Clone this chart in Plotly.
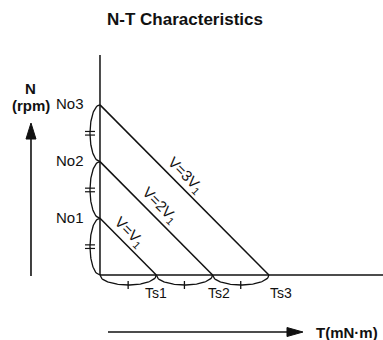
import numpy as np
import plotly.graph_objects as go

# ---- data ----
speed_labels = ["No1", "No2", "No3"]
no_load_speed = [1, 2, 3]          # relative no-load speed
torque_labels = ["Ts1", "Ts2", "Ts3"]
stall_torque = [1, 2, 3]           # relative stall torque
voltage_labels = ["V=V<sub>1</sub>", "V=2V<sub>1</sub>", "V=3V<sub>1</sub>"]

W, H = 383, 340
X_RANGE = [-1.776, 5.027]
Y_RANGE = [-1.146, 4.850]
px = (X_RANGE[1] - X_RANGE[0]) / W   # data units per pixel (x)
py = (Y_RANGE[1] - Y_RANGE[0]) / H   # data units per pixel (y)

FONT = "Liberation Sans, Arial, Helvetica, sans-serif"
INK = "#111111"
LW = 1.5

fig = go.Figure()

def add_line(xs, ys, width=LW):
    fig.add_trace(go.Scatter(x=xs, y=ys, mode="lines",
                             line=dict(color=INK, width=width),
                             hoverinfo="skip", showlegend=False))

def add_tri(xs, ys):
    fig.add_trace(go.Scatter(x=xs, y=ys, mode="lines", fill="toself",
                             fillcolor=INK, line=dict(color=INK, width=1),
                             hoverinfo="skip", showlegend=False))

# axes
add_line([0, 0], [0, 220 * py])
add_line([0, X_RANGE[1]], [0, 0])

# N-T lines
for n, t in zip(no_load_speed, stall_torque):
    add_line([0, t], [n, 0])

# arcs under torque axis with tick marks
tt = np.linspace(0, 1, 60)
bump = np.sqrt(np.clip(1 - (2 * tt - 1) ** 2, 0, 1))
ax, ay, kx, ky = [], [], [], []
prev = 0
for t in stall_torque:
    ax += list(prev + (t - prev) * tt) + [None]
    ay += list(-10 * py * bump) + [None]
    mid = (prev + t) / 2
    kx += [mid, mid, None]
    ky += [-6 * py, -14 * py, None]
    prev = t
add_line(ax, ay, 1.3)
add_line(kx, ky, 1.3)

# arcs left of speed axis with "=" marks
bx, by, ex, ey = [], [], [], []
prev = 0
for n in no_load_speed:
    by += list(prev + (n - prev) * tt) + [None]
    bx += list(-10 * px * bump) + [None]
    mid = (prev + n) / 2
    for d in (-1.8, 1.8):
        ex += [-15 * px, -5 * px, None]
        ey += [mid + d * py, mid + d * py, None]
    prev = n
add_line(bx, by, 1.3)
add_line(ex, ey, 1.2)

# vertical arrow (N)
xa = -69 * px
ytip = 152 * py
add_line([xa, xa], [-1 * py, ytip - 10 * py], 1.6)
add_tri([xa, xa - 5 * px, xa + 5 * px, xa], [ytip, ytip - 16 * py, ytip - 16 * py, ytip])

# horizontal arrow (T)
yb = -57 * py
xtip = 203 * px
add_line([8 * px, xtip - 10 * px], [yb, yb], 1.6)
add_tri([xtip, xtip - 16 * px, xtip - 16 * px, xtip], [yb, yb + 4.5 * py, yb - 4.5 * py, yb])

ann = []
# speed labels
for lab, n in zip(speed_labels, no_load_speed):
    ann.append(dict(x=0, y=n, text=lab, xanchor="right", yanchor="middle",
                    xshift=-14, yshift=1, font=dict(size=15)))
# torque labels
for lab, t, sh in zip(torque_labels, stall_torque, [0, 6, 12]):
    ann.append(dict(x=t, y=0, text=lab, xanchor="center", yanchor="middle",
                    xshift=sh, yshift=-18, font=dict(size=14)))
# voltage labels along lines
for lab, n, t, f in zip(voltage_labels, no_load_speed, stall_torque, [0.386, 0.46, 0.46]):
    ann.append(dict(x=t * f, y=n * (1 - f), text=lab, textangle=45,
                    xanchor="center", yanchor="middle", xshift=8, yshift=8,
                    font=dict(size=15)))
# axis titles
ann.append(dict(x=xa, y=(275 - 88) * py, text="<b>N</b>", font=dict(size=15),
                xanchor="center", yanchor="middle"))
ann.append(dict(x=xa, y=(275 - 105) * py, text="<b>(rpm)</b>", font=dict(size=15),
                xanchor="center", yanchor="middle"))
ann.append(dict(x=214 * px, y=yb, text="<b>T(mN·m)</b>", font=dict(size=15),
                xanchor="left", yanchor="middle"))
for a in ann:
    a.update(xref="x", yref="y", showarrow=False)
    a["font"].update(family=FONT, color=INK)

fig.update_layout(
    width=W, height=H,
    margin=dict(l=0, r=0, t=0, b=0),
    paper_bgcolor="white", plot_bgcolor="white",
    title=dict(text="N-T Characteristics", x=185 / W, y=1 - 19 / H,
               xanchor="center", yanchor="middle",
               font=dict(family=FONT, size=17, color=INK, weight="bold")),
    xaxis=dict(range=X_RANGE, visible=False, fixedrange=True),
    yaxis=dict(range=Y_RANGE, visible=False, fixedrange=True),
    annotations=ann,
    showlegend=False,
)

fig.write_html("out.html", config={"displayModeBar": False},
               post_script="document.body.style.margin='0';document.body.style.overflow='hidden';")
